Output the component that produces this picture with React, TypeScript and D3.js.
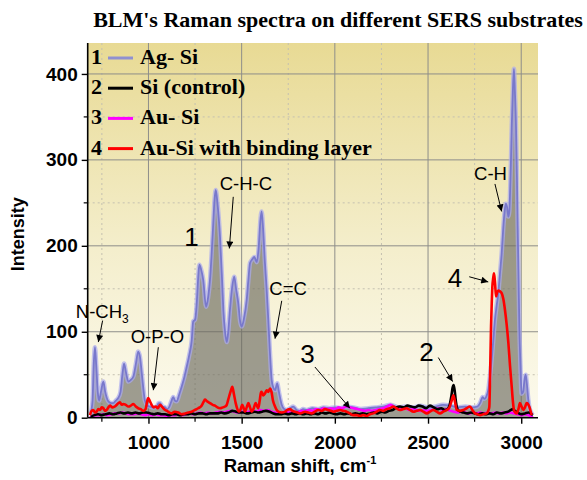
import { useRef, useEffect } from "react";
import * as d3 from "d3";

// [Raman shift cm-1, intensity]
const agSi = [
  [690, 5], [700, 20], [706, 60], [713, 82], [720, 60], [728, 30], [735, 20], [745, 30], [758, 42], [768, 30],
  [785, 19], [800, 17], [811, 17], [825, 20], [838, 23], [850, 30], [860, 50], [869, 63], [880, 52], [892, 42],
  [905, 44], [919, 48], [932, 62], [945, 77], [955, 70], [964, 52], [972, 35], [981, 20], [995, 14], [1008, 13],
  [1025, 12], [1044, 13], [1055, 17], [1062, 17], [1075, 13], [1089, 12], [1100, 10], [1110, 12], [1121, 18],
  [1133, 24], [1142, 20], [1151, 19], [1165, 27], [1178, 36], [1190, 45], [1205, 59], [1218, 72], [1232, 90],
  [1240, 112], [1250, 114], [1259, 133], [1266, 160], [1273, 178], [1283, 172], [1294, 160], [1309, 129],
  [1320, 140], [1330, 160], [1345, 215], [1355, 255], [1361, 265], [1370, 250], [1384, 210], [1395, 160],
  [1402, 125], [1411, 100], [1420, 88], [1428, 100], [1437, 125], [1448, 150], [1460, 164], [1470, 150],
  [1482, 133], [1492, 112], [1500, 106], [1512, 115], [1527, 137], [1536, 160], [1545, 180], [1556, 184],
  [1568, 187], [1581, 181], [1592, 200], [1600, 228], [1607, 240], [1615, 220], [1625, 180], [1634, 150],
  [1643, 114], [1652, 75], [1661, 44], [1670, 35], [1679, 32], [1691, 40], [1700, 30], [1715, 15], [1728, 10],
  [1742, 9], [1760, 11], [1777, 13], [1795, 9], [1813, 8], [1830, 10], [1850, 9], [1880, 11], [1910, 10],
  [1940, 12], [1970, 11], [2000, 12], [2030, 11], [2060, 13], [2100, 12], [2140, 10], [2180, 11], [2220, 12],
  [2260, 13], [2300, 15], [2340, 12], [2380, 13], [2420, 12], [2460, 14], [2500, 12], [2540, 13], [2580, 15],
  [2620, 14], [2660, 12], [2700, 13], [2740, 12], [2765, 13], [2779, 17], [2793, 24], [2803, 22], [2811, 24],
  [2823, 32], [2832, 48], [2841, 67], [2850, 90], [2859, 114], [2868, 130], [2877, 145], [2886, 168],
  [2895, 191], [2904, 222], [2911, 240], [2917, 249], [2924, 245], [2931, 234], [2936, 240], [2940, 261],
  [2945, 300], [2949, 338], [2955, 380], [2961, 406], [2966, 380], [2972, 338], [2977, 280], [2981, 222],
  [2986, 160], [2990, 106], [2996, 60], [3002, 28], [3010, 30], [3018, 45], [3024, 50], [3030, 40], [3038, 21],
  [3046, 10], [3056, 5], [3062, 3],
];

const siControl = [
  [690, 1], [710, 3], [730, 4], [750, 3], [770, 4], [790, 5], [810, 4], [830, 5], [850, 6], [870, 5], [890, 6],
  [910, 5], [930, 6], [950, 5], [970, 6], [990, 6], [1010, 5], [1030, 4], [1050, 5], [1070, 4], [1090, 4],
  [1110, 3], [1130, 4], [1150, 4], [1170, 3], [1190, 4], [1210, 4], [1230, 5], [1250, 4], [1270, 5], [1290, 5],
  [1310, 4], [1330, 5], [1350, 5], [1370, 5], [1390, 6], [1410, 5], [1430, 6], [1450, 8], [1470, 7], [1490, 6],
  [1510, 6], [1530, 5], [1550, 6], [1570, 7], [1590, 6], [1610, 7], [1630, 8], [1650, 7], [1670, 5], [1690, 4],
  [1710, 4], [1730, 5], [1750, 4], [1770, 5], [1790, 4], [1810, 5], [1830, 4], [1850, 5], [1870, 4], [1890, 5],
  [1910, 4], [1930, 6], [1950, 5], [1970, 6], [1990, 5], [2010, 4], [2030, 5], [2050, 4], [2070, 5], [2090, 4],
  [2110, 5], [2130, 4], [2150, 5], [2170, 4], [2190, 5], [2210, 6], [2230, 5], [2250, 7], [2270, 6], [2290, 8],
  [2310, 9], [2330, 12], [2350, 13], [2370, 12], [2390, 14], [2410, 13], [2430, 12], [2450, 14], [2470, 13],
  [2490, 11], [2510, 14], [2530, 12], [2550, 10], [2570, 11], [2590, 9], [2605, 10], [2615, 14], [2625, 25],
  [2632, 35], [2637, 38], [2642, 33], [2650, 18], [2660, 9], [2675, 7], [2690, 6], [2710, 5], [2730, 6],
  [2750, 5], [2770, 4], [2790, 5], [2810, 4], [2830, 5], [2850, 4], [2870, 6], [2890, 5], [2910, 6], [2930, 7],
  [2945, 9], [2955, 10], [2965, 8], [2980, 6], [3000, 4], [3020, 5], [3040, 6], [3055, 4], [3062, 3],
];

const auSi = [
  [686, 0], [700, 2], [720, 3], [740, 3], [760, 4], [780, 3], [800, 4], [820, 5], [840, 5], [860, 6], [880, 5],
  [900, 4], [920, 4], [940, 5], [960, 4], [980, 3], [1000, 4], [1020, 3], [1040, 4], [1060, 3], [1080, 3],
  [1100, 2], [1120, 3], [1140, 3], [1160, 4], [1180, 3], [1200, 4], [1220, 5], [1240, 4], [1260, 5], [1280, 6],
  [1300, 5], [1320, 6], [1340, 5], [1360, 6], [1380, 7], [1400, 6], [1420, 7], [1440, 8], [1460, 7], [1480, 6],
  [1500, 7], [1520, 6], [1540, 7], [1560, 8], [1580, 7], [1600, 9], [1620, 8], [1640, 9], [1660, 7], [1680, 6],
  [1700, 5], [1720, 6], [1740, 7], [1760, 6], [1780, 7], [1800, 6], [1820, 8], [1840, 7], [1860, 9], [1880, 8],
  [1900, 10], [1920, 9], [1940, 11], [1960, 10], [1980, 11], [2000, 10], [2020, 12], [2040, 11], [2060, 13],
  [2080, 12], [2100, 11], [2120, 10], [2140, 9], [2160, 8], [2180, 9], [2200, 8], [2220, 9], [2240, 10],
  [2260, 11], [2280, 13], [2300, 15], [2320, 12], [2340, 11], [2360, 10], [2380, 11], [2400, 9], [2420, 10],
  [2440, 9], [2460, 8], [2480, 9], [2500, 8], [2520, 9], [2540, 10], [2560, 11], [2580, 9], [2600, 10],
  [2620, 8], [2640, 7], [2660, 6], [2680, 7], [2700, 6], [2720, 5], [2740, 6], [2760, 5], [2780, 6], [2800, 5],
  [2820, 6], [2840, 5], [2860, 6], [2880, 5], [2900, 6], [2920, 5], [2940, 6], [2960, 5], [2980, 4], [3000, 3],
  [3020, 4], [3040, 3], [3055, 1], [3062, 0],
];

const auSiBinding = [
  [686, 3], [695, 8], [704, 9], [713, 6], [722, 7], [731, 10], [740, 9], [749, 12], [758, 11], [767, 8],
  [776, 9], [785, 12], [794, 14], [807, 12], [820, 13], [834, 16], [847, 18], [856, 15], [865, 16], [878, 15],
  [892, 13], [905, 14], [919, 16], [932, 13], [945, 11], [958, 10], [972, 8], [985, 10], [992, 18], [999, 23],
  [1008, 19], [1017, 15], [1028, 12], [1039, 13], [1050, 11], [1062, 15], [1075, 12], [1089, 9], [1100, 8],
  [1112, 6], [1125, 5], [1140, 7], [1160, 6], [1178, 4], [1196, 5], [1214, 6], [1232, 7], [1250, 9], [1267, 11],
  [1285, 14], [1295, 18], [1303, 21], [1315, 19], [1330, 17], [1345, 15], [1357, 14], [1370, 12], [1384, 11],
  [1398, 12], [1411, 13], [1420, 15], [1428, 21], [1440, 30], [1450, 36], [1458, 28], [1468, 17], [1477, 10],
  [1486, 7], [1495, 10], [1503, 15], [1511, 11], [1518, 7], [1527, 12], [1536, 17], [1545, 12], [1554, 7],
  [1565, 11], [1575, 17], [1582, 14], [1589, 11], [1597, 20], [1604, 30], [1610, 29], [1616, 26], [1625, 28],
  [1634, 32], [1643, 30], [1652, 34], [1660, 30], [1668, 20], [1679, 13], [1688, 9], [1697, 7], [1715, 6],
  [1733, 7], [1745, 9], [1759, 10], [1772, 8], [1786, 7], [1800, 6], [1813, 5], [1828, 6], [1840, 7], [1858, 6],
  [1876, 5], [1893, 7], [1911, 9], [1930, 8], [1947, 10], [1965, 9], [1980, 8], [1992, 7], [2010, 8], [2028, 9],
  [2045, 8], [2063, 7], [2080, 5], [2099, 3], [2117, 3], [2135, 2], [2153, 3], [2171, 2], [2188, 4], [2206, 5],
  [2224, 7], [2242, 9], [2260, 8], [2278, 10], [2295, 11], [2313, 13], [2330, 11], [2349, 9], [2367, 10],
  [2385, 11], [2403, 9], [2421, 7], [2439, 8], [2457, 9], [2475, 7], [2493, 5], [2510, 7], [2528, 9], [2546, 7],
  [2564, 5], [2582, 7], [2600, 9], [2615, 12], [2627, 20], [2636, 26], [2645, 18], [2654, 9], [2670, 8],
  [2689, 9], [2707, 11], [2725, 13], [2738, 9], [2752, 5], [2765, 4], [2779, 3], [2797, 4], [2815, 5], [2825, 9],
  [2829, 13], [2833, 50], [2838, 106], [2842, 135], [2845, 152], [2850, 163], [2854, 168], [2859, 158],
  [2865, 141], [2871, 146], [2877, 148], [2886, 147], [2895, 145], [2904, 138], [2913, 125], [2922, 108],
  [2931, 87], [2940, 60], [2949, 36], [2955, 20], [2961, 9], [2968, 6], [2976, 5], [2985, 10], [2993, 17],
  [3002, 13], [3011, 9], [3020, 12], [3029, 17], [3036, 16], [3043, 13], [3050, 8], [3056, 3],
];

const legendItems = [
  { num: "1", label: "Ag- Si", color: "#9090d0" },
  { num: "2", label: "Si (control)", color: "#000000" },
  { num: "3", label: "Au- Si", color: "#ff00ff" },
  { num: "4", label: "Au-Si with binding layer", color: "#ff0000" },
];

// text position and arrow (from -> to), all in data units
const notes = [
  { text: "C-H-C", x: 1523, y: 265, big: false, from: [1455, 257], to: [1434, 197] },
  { text: "1", x: 1231, y: 200, big: true, from: null, to: null },
  { text: "C=C", x: 1749, y: 143, big: false, from: [1715, 136], to: [1679, 92] },
  { text: "N-CH", sub: "3", x: 752, y: 116, big: false, from: [754, 113], to: [731, 88] },
  { text: "O-P-O", x: 1048, y: 87, big: false, from: [1053, 82], to: [1026, 32] },
  { text: "3", x: 1853, y: 64, big: true, from: [1893, 59], to: [2081, 11] },
  { text: "C-H", x: 2835, y: 277, big: false, from: [2859, 272], to: [2895, 240] },
  { text: "4", x: 2645, y: 152, big: true, from: [2721, 164], to: [2823, 158] },
  { text: "2", x: 2492, y: 66, big: true, from: [2555, 70], to: [2632, 42] },
];

const xTicks = [1000, 1500, 2000, 2500, 3000];
const xMinor = [750, 1250, 1750, 2250, 2750];
const yTicks = [0, 100, 200, 300, 400];
const yMinor = [50, 150, 250, 350];

const width = 587;
const height = 480;
const left = 87.7;
const right = 538;
const top = 43;
const bottom = 417.7;

const sans = "'Liberation Sans', Arial, sans-serif";
const serif = "'Liberation Serif', 'Times New Roman', serif";

const App = () => {
  const svgRef = useRef(null);

  useEffect(() => {
    const svg = d3.select(svgRef.current);
    svg.selectAll("*").remove();

    const x = d3.scaleLinear().domain([674, 3090]).range([left, right]);
    const y = d3.scaleLinear().domain([0, 436]).range([bottom, top]);

    const defs = svg.append("defs");
    const grad = defs
      .append("linearGradient")
      .attr("id", "bg")
      .attr("x1", 0)
      .attr("y1", 0)
      .attr("x2", 0)
      .attr("y2", 1);
    grad.append("stop").attr("offset", "0%").attr("stop-color", "#e8da94");
    grad.append("stop").attr("offset", "55%").attr("stop-color", "#f4eecc");
    grad.append("stop").attr("offset", "100%").attr("stop-color", "#fcfaee");

    defs
      .append("clipPath")
      .attr("id", "plotclip")
      .append("rect")
      .attr("x", left)
      .attr("y", top)
      .attr("width", right - left)
      .attr("height", bottom - top);

    defs
      .append("marker")
      .attr("id", "arrow")
      .attr("viewBox", "0 0 10 10")
      .attr("refX", 10)
      .attr("refY", 5)
      .attr("markerWidth", 9)
      .attr("markerHeight", 7)
      .attr("markerUnits", "userSpaceOnUse")
      .attr("orient", "auto")
      .append("path")
      .attr("d", "M0,0 L10,5 L0,10 z")
      .attr("fill", "#000");

    svg
      .append("rect")
      .attr("x", left)
      .attr("y", top)
      .attr("width", right - left)
      .attr("height", bottom - top)
      .attr("fill", "url(#bg)");

    // grid
    const grid = svg.append("g");
    grid
      .selectAll(".gx-minor")
      .data(xMinor)
      .enter()
      .append("line")
      .attr("x1", (d) => x(d))
      .attr("x2", (d) => x(d))
      .attr("y1", top)
      .attr("y2", bottom)
      .attr("stroke", "#c4c0b0")
      .attr("stroke-dasharray", "2,3");
    grid
      .selectAll(".gy-minor")
      .data(yMinor)
      .enter()
      .append("line")
      .attr("x1", left)
      .attr("x2", right)
      .attr("y1", (d) => y(d))
      .attr("y2", (d) => y(d))
      .attr("stroke", "#c4c0b0")
      .attr("stroke-dasharray", "2,3");
    grid
      .selectAll(".gx")
      .data(xTicks)
      .enter()
      .append("line")
      .attr("x1", (d) => x(d))
      .attr("x2", (d) => x(d))
      .attr("y1", top)
      .attr("y2", bottom)
      .attr("stroke", "#8e8e8a")
      .attr("stroke-width", 1);
    grid
      .selectAll(".gy")
      .data(yTicks.filter((d) => d > 0))
      .enter()
      .append("line")
      .attr("x1", left)
      .attr("x2", right)
      .attr("y1", (d) => y(d))
      .attr("y2", (d) => y(d))
      .attr("stroke", "#8e8e8a")
      .attr("stroke-width", 1);

    const plot = svg.append("g").attr("clip-path", "url(#plotclip)");

    const line = d3
      .line()
      .x((d) => x(d[0]))
      .y((d) => y(d[1]))
      .curve(d3.curveMonotoneX);
    const area = d3
      .area()
      .x((d) => x(d[0]))
      .y0(y(0))
      .y1((d) => y(d[1]))
      .curve(d3.curveMonotoneX);

    plot.append("path").datum(agSi).attr("d", area).attr("fill", "#6c6a60").attr("fill-opacity", 0.65);
    plot
      .append("path")
      .datum(agSi)
      .attr("d", line)
      .attr("fill", "none")
      .attr("stroke", "#aaaaee")
      .attr("stroke-opacity", 0.7)
      .attr("stroke-width", 4.5);
    plot
      .append("path")
      .datum(agSi)
      .attr("d", line)
      .attr("fill", "none")
      .attr("stroke", "#7878cc")
      .attr("stroke-width", 1.8);

    [
      [auSi, "#ff00ff"],
      [siControl, "#000000"],
      [auSiBinding, "#ff0000"],
    ].forEach(([data, color]) => {
      plot
        .append("path")
        .datum(data)
        .attr("d", line)
        .attr("fill", "none")
        .attr("stroke", color)
        .attr("stroke-width", 2.6)
        .attr("stroke-linejoin", "round");
    });

    // axes
    const xAxis = svg
      .append("g")
      .attr("transform", `translate(0,${bottom})`)
      .call(d3.axisBottom(x).tickValues(xTicks).tickSize(6).tickSizeOuter(0).tickFormat(d3.format("d")));
    xAxis.select(".domain").attr("stroke-width", 1.6).attr("d", `M${left},0H${right}`);
    xAxis
      .selectAll("text")
      .attr("dy", "1.15em")
      .style("font-family", sans)
      .style("font-weight", "bold")
      .style("font-size", "19px")
      .attr("fill", "#000");
    xAxis.selectAll("line").attr("stroke-width", 1.4);
    xAxis
      .selectAll(".minor")
      .data(xMinor)
      .enter()
      .append("line")
      .attr("x1", (d) => x(d))
      .attr("x2", (d) => x(d))
      .attr("y1", 0)
      .attr("y2", 4)
      .attr("stroke", "#000")
      .attr("stroke-width", 1.2);

    const yAxis = svg
      .append("g")
      .attr("transform", `translate(${left},0)`)
      .call(d3.axisLeft(y).tickValues(yTicks).tickSize(6).tickSizeOuter(0));
    yAxis.select(".domain").attr("stroke-width", 1.6).attr("d", `M0,${bottom}V${top}`);
    yAxis
      .selectAll("text")
      .attr("x", -10)
      .style("font-family", sans)
      .style("font-weight", "bold")
      .style("font-size", "19px")
      .attr("fill", "#000");
    yAxis.selectAll("line").attr("stroke-width", 1.4);
    yAxis
      .selectAll(".minor")
      .data(yMinor)
      .enter()
      .append("line")
      .attr("x1", -4)
      .attr("x2", 0)
      .attr("y1", (d) => y(d))
      .attr("y2", (d) => y(d))
      .attr("stroke", "#000")
      .attr("stroke-width", 1.2);

    svg
      .append("text")
      .attr("transform", `translate(24,${(top + bottom) / 2 + 4}) rotate(-90)`)
      .attr("text-anchor", "middle")
      .style("font-family", sans)
      .style("font-weight", "bold")
      .style("font-size", "18px")
      .text("Intensity");

    const xl = svg
      .append("text")
      .attr("x", 300)
      .attr("y", 472)
      .attr("text-anchor", "middle")
      .style("font-family", sans)
      .style("font-weight", "bold")
      .style("font-size", "18.5px");
    xl.append("tspan").text("Raman shift, cm");
    xl.append("tspan").attr("dy", -8).style("font-size", "11px").text("-1");

    svg
      .append("text")
      .attr("x", 338)
      .attr("y", 27)
      .attr("text-anchor", "middle")
      .style("font-family", serif)
      .style("font-weight", "bold")
      .style("font-size", "22px")
      .text("BLM's Raman spectra on different SERS substrates");

    // legend
    const lg = svg.append("g");
    legendItems.forEach((item, i) => {
      const by = 64 + i * 30.2;
      lg.append("text")
        .attr("x", 91)
        .attr("y", by)
        .style("font-family", serif)
        .style("font-weight", "bold")
        .style("font-size", "22px")
        .text(item.num);
      lg.append("line")
        .attr("x1", 108)
        .attr("x2", 133)
        .attr("y1", by - 6)
        .attr("y2", by - 6)
        .attr("stroke", item.color)
        .attr("stroke-width", 3);
      lg.append("text")
        .attr("x", 140)
        .attr("y", by)
        .style("font-family", serif)
        .style("font-weight", "bold")
        .style("font-size", "22px")
        .text(item.label);
    });

    // annotations
    const ann = svg.append("g");
    notes.forEach((n) => {
      const t = ann
        .append("text")
        .attr("x", x(n.x))
        .attr("y", y(n.y))
        .attr("text-anchor", "middle")
        .style("font-family", sans)
        .style("font-size", n.big ? "26px" : "18.5px");
      t.append("tspan").text(n.text);
      if (n.sub) t.append("tspan").attr("dy", 5).style("font-size", "12px").text(n.sub);
      if (n.from && n.to) {
        ann
          .append("line")
          .attr("x1", x(n.from[0]))
          .attr("y1", y(n.from[1]))
          .attr("x2", x(n.to[0]))
          .attr("y2", y(n.to[1]))
          .attr("stroke", "#000")
          .attr("stroke-width", 1)
          .attr("marker-end", "url(#arrow)");
      }
    });
  }, []);

  return (
    <div style={{ position: "absolute", left: 0, top: 0 }}>
      <svg ref={svgRef} width={width} height={height}></svg>
    </div>
  );
};

export default App;
